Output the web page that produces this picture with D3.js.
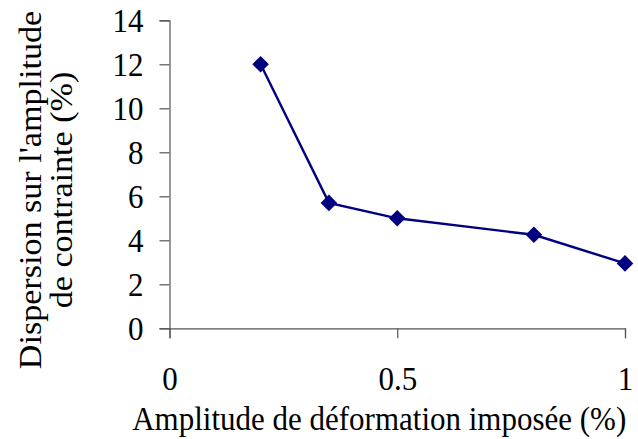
<!DOCTYPE html>
<html>
<head>
<meta charset="utf-8">
<script src="https://cdn.jsdelivr.net/npm/d3@7"></script>
<style>
  html, body { margin: 0; padding: 0; background: #fff; }
  svg { display: block; }
  text { font-family: "Liberation Serif", "Times New Roman", serif; fill: #000; }
</style>
</head>
<body>
<svg id="chart" width="638" height="439"></svg>
<script>
// Strain amplitude (%) and stress-amplitude scatter (%)
const strainAmplitude = [0.2, 0.35, 0.5, 0.8, 1.0];
const stressDispersion = [12, 5.7, 5.0, 4.25, 2.95];
const xTicks = [0, 0.5, 1];
const yTicks = [0, 2, 4, 6, 8, 10, 12, 14];

const svg = d3.select("#chart");
const plotLeft = 169.5, plotRight = 625, plotTop = 20.3, plotBottom = 328.3;

const x = d3.scaleLinear().domain([0, 1]).range([plotLeft, plotRight]);
const y = d3.scaleLinear().domain([0, 14]).range([plotBottom, plotTop]);

const axisColor = "#555";
const fontSize = 31;
const tall = 1.1; // glyphs are drawn slightly taller than wide

// stretch a text vertically about its own anchor point
function stretch(sel) {
  sel.each(function () {
    const t = d3.select(this);
    const ax = +t.attr("x") || 0, ay = +t.attr("y") || 0;
    t.attr("transform", `translate(${ax},${ay}) scale(1,${tall}) translate(${-ax},${-ay})`);
  });
}

// y axis
const gy = svg.append("g").attr("transform", `translate(${plotLeft},0)`)
  .call(d3.axisLeft(y).tickValues(yTicks).tickSize(10).tickPadding(16).tickFormat(d3.format("d")));
gy.select(".domain").attr("stroke", axisColor).attr("stroke-width", 1.2);
gy.selectAll(".tick line").attr("stroke", axisColor).attr("stroke-width", 1.2);
gy.selectAll(".tick text").style("font-size", fontSize + "px").style("font-family", "Liberation Serif").attr("fill", "#000").call(stretch);

// x axis
const gx = svg.append("g").attr("transform", `translate(0,${plotBottom})`)
  .call(d3.axisBottom(x).tickValues(xTicks).tickSize(10).tickPadding(27.5).tickFormat(d => d === 0.5 ? "0.5" : d3.format("d")(d)));
gx.select(".domain").attr("stroke", axisColor).attr("stroke-width", 1.2);
gx.selectAll(".tick line").attr("stroke", axisColor).attr("stroke-width", 1.2);
gx.selectAll(".tick text").style("font-size", fontSize + "px").style("font-family", "Liberation Serif").attr("fill", "#000").call(stretch);

// axis titles
svg.append("text")
  .attr("x", (plotLeft + plotRight) / 2 - 18).attr("y", 430)
  .attr("text-anchor", "middle").style("font-size", fontSize + "px")
  .text("Amplitude de déformation imposée (%)")
  .call(stretch);

const yt = svg.append("text")
  .attr("transform", `translate(0,190) scale(1,${tall}) rotate(-90)`)
  .attr("text-anchor", "middle").style("font-size", fontSize + "px");
yt.append("tspan").attr("x", 0).attr("y", 41).text("Dispersion sur l'amplitude");
yt.append("tspan").attr("x", 0).attr("y", 72).text("de contrainte (%)");

// series line
const pts = strainAmplitude.map((v, i) => [v, stressDispersion[i]]);
svg.append("path")
  .datum(pts)
  .attr("fill", "none").attr("stroke", "#000080").attr("stroke-width", 2.4)
  .attr("d", d3.line().x(d => x(d[0])).y(d => y(d[1])));

// diamond markers
svg.append("g").selectAll("path").data(pts).join("path")
  .attr("transform", d => `translate(${x(d[0])},${y(d[1])})`)
  .attr("d", "M0,-8.3L8.3,0L0,8.3L-8.3,0Z")
  .attr("fill", "#000080");
</script>
</body>
</html>
